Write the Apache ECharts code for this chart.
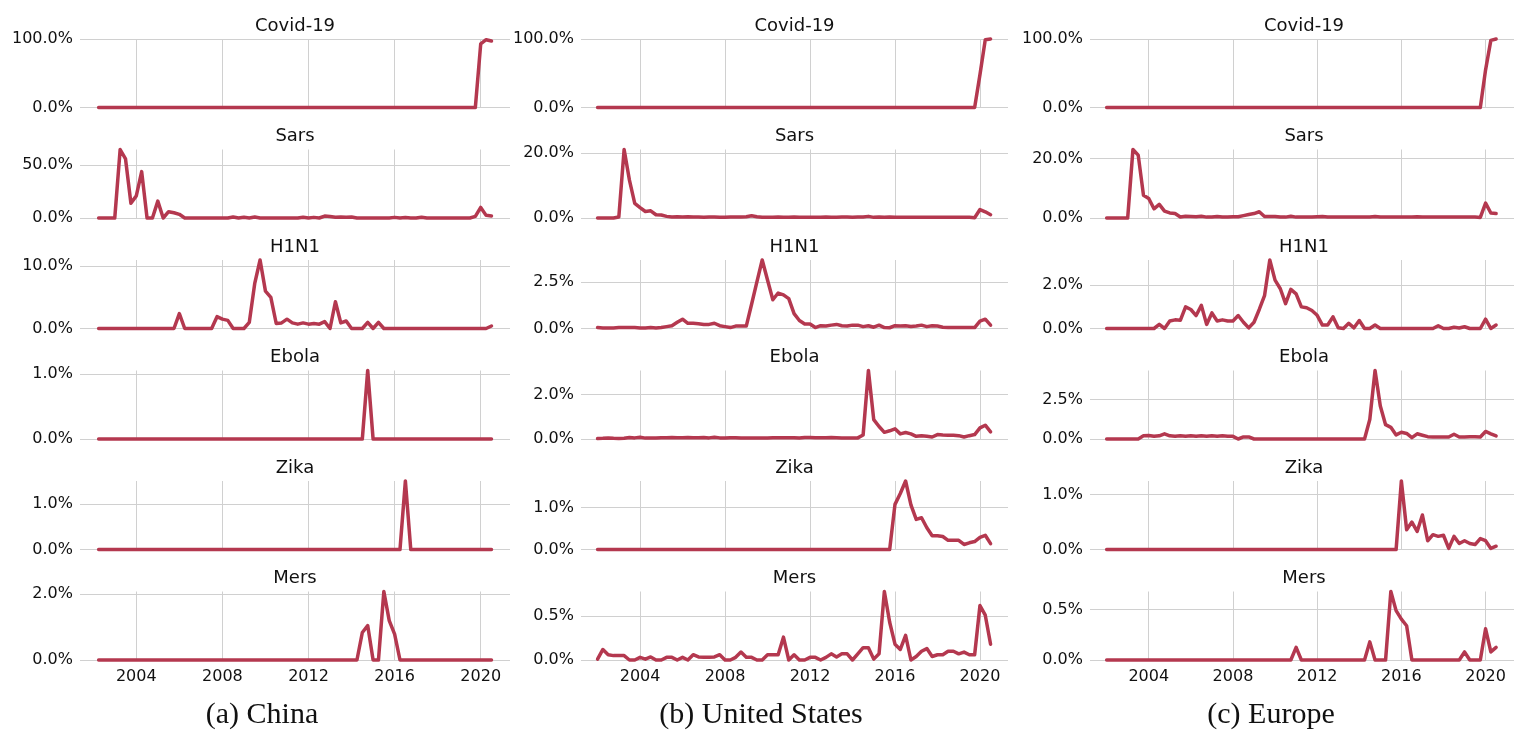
<!DOCTYPE html>
<html><head><meta charset="utf-8">
<script src="https://cdn.jsdelivr.net/npm/echarts@6/dist/echarts.min.js"></script>
<style>html,body{margin:0;padding:0;background:#fff}#c{width:1514px;height:730px}</style>
</head><body><div id="c"></div><script>
// ---------------- DATA ----------------
const regionNames = ['(a) China', '(b) United States', '(c) Europe'];
const diseases = ['Covid-19', 'Sars', 'H1N1', 'Ebola', 'Zika', 'Mers'];
const yearTicks = [2004, 2008, 2012, 2016, 2020];
// quarterly series start years
const chinaStartYear = 2002.25;
const usStartYear = 2002.0;
const europeStartYear = 2002.0;
const quarterStep = 0.25;
// upper y tick (percent) for each disease panel
const chinaYTicks = [100, 50, 10, 1, 1, 2];
const usYTicks = [100, 20, 2.5, 2, 1, 0.5];
const europeYTicks = [100, 20, 2, 2.5, 1, 0.5];

// China (2002 Q2 .. 2020 Q3), percent
const chinaCovid = [
 0,0,0,0,0,0,0,0,0,0, 0,0,0,0,0,0,0,0,0,0, 0,0,0,0,0,0,0,0,0,0,
 0,0,0,0,0,0,0,0,0,0, 0,0,0,0,0,0,0,0,0,0, 0,0,0,0,0,0,0,0,0,0,
 0,0,0,0,0,0,0,0,0,0, 0,93,99,97];
const chinaSars = [
 0,0,0,0,65,56,14,21,44,0, 0,16,0,6,5,3.5,0,0,0,0, 0,0,0,0,0,1,0,0.8,0,1,
 0,0,0,0,0,0,0,0,0.8,0, 0.6,0,1.8,1.5,0.8,1,0.8,1,0,0, 0,0,0,0,0,0.6,0,0.5,0,0,
 0.8,0,0,0,0,0,0,0,0,0, 1.5,10,2.5,2];
const chinaH1N1 = [
 0,0,0,0,0,0,0,0,0,0, 0,0,0,0,0,2.4,0,0,0,0, 0,0,1.9,1.5,1.3,0,0,0,1.0,7.2,
 11,6,5,0.8,0.9,1.5,0.9,0.7,0.9,0.7, 0.8,0.7,1.1,0,4.3,0.9,1.2,0,0,0, 1.0,0,1.0,0,0,0,0,0,0,0,
 0,0,0,0,0,0,0,0,0,0, 0,0,0,0.4];
const chinaEbola = [
 0,0,0,0,0,0,0,0,0,0, 0,0,0,0,0,0,0,0,0,0, 0,0,0,0,0,0,0,0,0,0,
 0,0,0,0,0,0,0,0,0,0, 0,0,0,0,0,0,0,0,0,0, 1.05,0,0,0,0,0,0,0,0,0,
 0,0,0,0,0,0,0,0,0,0, 0,0,0,0];
const chinaZika = [
 0,0,0,0,0,0,0,0,0,0, 0,0,0,0,0,0,0,0,0,0, 0,0,0,0,0,0,0,0,0,0,
 0,0,0,0,0,0,0,0,0,0, 0,0,0,0,0,0,0,0,0,0, 0,0,0,0,0,0,0,1.5,0,0,
 0,0,0,0,0,0,0,0,0,0, 0,0,0,0];
const chinaMers = [
 0,0,0,0,0,0,0,0,0,0, 0,0,0,0,0,0,0,0,0,0, 0,0,0,0,0,0,0,0,0,0,
 0,0,0,0,0,0,0,0,0,0, 0,0,0,0,0,0,0,0,0,0.83, 1.04,0,0,2.07,1.19,0.78,0,0,0,0,
 0,0,0,0,0,0,0,0,0,0, 0,0,0,0];

// United States (2002 Q1 .. 2020 Q3), percent
const usCovid = [
 0,0,0,0,0,0,0,0,0,0, 0,0,0,0,0,0,0,0,0,0, 0,0,0,0,0,0,0,0,0,0,
 0,0,0,0,0,0,0,0,0,0, 0,0,0,0,0,0,0,0,0,0, 0,0,0,0,0,0,0,0,0,0,
 0,0,0,0,0,0,0,0,0,0, 0,0,48,99,100];
const usSars = [
 0,0,0,0,0.3,21,11.6,4.5,3.2,2, 2.2,1.0,0.9,0.5,0.3,0.4,0.3,0.4,0.3,0.3,
 0.2,0.3,0.3,0.2,0.2,0.3,0.3,0.3,0.4,0.7, 0.4,0.2,0.2,0.2,0.3,0.2,0.2,0.3,0.2,0.2,
 0.2,0.2,0.2,0.3,0.2,0.2,0.3,0.3,0.2,0.3, 0.3,0.5,0.2,0.3,0.2,0.3,0.2,0.2,0.2,0.2,
 0.2,0.2,0.2,0.2,0.2,0.2,0.2,0.2,0.2,0.2, 0.2,0.1,2.6,1.9,1.0];
const usH1N1 = [
 0.05,0.03,0.03,0.03,0.05,0.05,0.06,0.05,0.03,0.03, 0.05,0.03,0.05,0.1,0.15,0.33,0.5,0.28,0.28,0.26,
 0.22,0.22,0.28,0.15,0.1,0.05,0.13,0.13,0.13,1.3, 2.5,3.67,2.6,1.54,1.9,1.8,1.6,0.8,0.43,0.24,
 0.24,0.05,0.15,0.13,0.18,0.22,0.15,0.13,0.18,0.18, 0.1,0.15,0.07,0.18,0.05,0.04,0.15,0.13,0.15,0.11,
 0.13,0.18,0.1,0.15,0.13,0.07,0.06,0.05,0.05,0.05, 0.05,0.05,0.4,0.5,0.18];
const usEbola = [
 0.02,0.03,0.05,0.03,0.02,0.03,0.07,0.05,0.08,0.04, 0.04,0.05,0.06,0.06,0.07,0.06,0.06,0.07,0.06,0.06,
 0.07,0.05,0.08,0.05,0.04,0.06,0.06,0.05,0.05,0.05, 0.05,0.04,0.05,0.06,0.06,0.06,0.06,0.06,0.04,0.07,
 0.07,0.06,0.06,0.06,0.07,0.06,0.05,0.04,0.04,0.05, 0.18,3.08,0.87,0.56,0.3,0.37,0.46,0.23,0.29,0.23,
 0.12,0.15,0.12,0.09,0.2,0.18,0.17,0.17,0.15,0.09, 0.15,0.2,0.5,0.62,0.32];
const usZika = [
 0,0,0,0,0,0,0,0,0,0, 0,0,0,0,0,0,0,0,0,0, 0,0,0,0,0,0,0,0,0,0,
 0,0,0,0,0,0,0,0,0,0, 0,0,0,0,0,0,0,0,0,0, 0,0,0,0,0,0,1.08,1.34,1.64,1.07,
 0.72,0.76,0.52,0.33,0.33,0.31,0.22,0.22,0.22,0.12, 0.16,0.19,0.29,0.34,0.14];
const usMers = [
 0.01,0.12,0.06,0.05,0.05,0.05,0,0,0.03,0.01, 0.035,0,0,0.03,0.03,0,0.03,0,0.06,0.035,
 0.03,0.03,0.035,0.06,0,0,0.03,0.09,0.03,0.03, 0,0,0.06,0.06,0.06,0.26,0,0.06,0,0,
 0.03,0.03,0,0.03,0.07,0.035,0.07,0.07,0,0.07, 0.14,0.14,0.01,0.07,0.78,0.43,0.18,0.12,0.28,0,
 0.04,0.1,0.13,0.04,0.06,0.06,0.1,0.1,0.07,0.09, 0.06,0.06,0.62,0.51,0.18];

// Europe (2002 Q1 .. 2020 Q3), percent
const europeCovid = [
 0,0,0,0,0,0,0,0,0,0, 0,0,0,0,0,0,0,0,0,0, 0,0,0,0,0,0,0,0,0,0,
 0,0,0,0,0,0,0,0,0,0, 0,0,0,0,0,0,0,0,0,0, 0,0,0,0,0,0,0,0,0,0,
 0,0,0,0,0,0,0,0,0,0, 0,0,55,98,100];
const europeSars = [
 0,0,0,0,0,23.1,21.2,7.7,6.6,3.1, 4.6,2.3,1.7,1.5,0.35,0.6,0.5,0.4,0.6,0.3,
 0.3,0.5,0.3,0.3,0.4,0.4,0.8,1.2,1.5,2.1, 0.5,0.5,0.5,0.3,0.3,0.6,0.3,0.3,0.3,0.3,
 0.4,0.5,0.3,0.3,0.3,0.3,0.3,0.3,0.3,0.3, 0.3,0.5,0.3,0.3,0.3,0.3,0.3,0.3,0.3,0.4,
 0.3,0.3,0.3,0.3,0.3,0.3,0.3,0.3,0.3,0.3, 0.3,0.2,5.0,1.7,1.5];
const europeH1N1 = [
 0,0,0,0,0,0,0,0,0,0, 0.19,0,0.35,0.4,0.38,1.0,0.88,0.6,1.07,0.19,
 0.72,0.35,0.4,0.35,0.35,0.6,0.29,0.03,0.29,0.88, 1.52,3.17,2.24,1.84,1.15,1.81,1.6,1.0,0.96,0.83,
 0.61,0.16,0.16,0.54,0.03,0,0.24,0.03,0.37,0, 0,0.16,0,0,0,0,0,0,0,0,
 0,0,0,0.13,0,0,0.06,0.02,0.08,0, 0,0,0.43,0,0.16];
const europeEbola = [
 0,0,0,0,0,0,0,0.2,0.22,0.17, 0.2,0.33,0.2,0.17,0.2,0.17,0.2,0.17,0.2,0.17,
 0.2,0.17,0.2,0.17,0.17,0,0.13,0.13,0,0, 0,0,0,0,0,0,0,0,0,0,
 0,0,0,0,0,0,0,0,0,0, 1.24,4.35,2.1,0.91,0.74,0.26,0.43,0.35,0.09,0.33,
 0.24,0.15,0.13,0.13,0.13,0.13,0.3,0.13,0.13,0.15, 0.15,0.13,0.48,0.33,0.2];
const europeZika = [
 0,0,0,0,0,0,0,0,0,0, 0,0,0,0,0,0,0,0,0,0, 0,0,0,0,0,0,0,0,0,0,
 0,0,0,0,0,0,0,0,0,0, 0,0,0,0,0,0,0,0,0,0, 0,0,0,0,0,0,1.25,0.36,0.5,0.33,
 0.63,0.16,0.27,0.24,0.26,0.02,0.24,0.11,0.16,0.11, 0.09,0.2,0.16,0.02,0.06];
const europeMers = [
 0,0,0,0,0,0,0,0,0,0, 0,0,0,0,0,0,0,0,0,0, 0,0,0,0,0,0,0,0,0,0,
 0,0,0,0,0,0,0.125,0,0,0, 0,0,0,0,0,0,0,0,0,0, 0.18,0,0,0,0.68,0.49,0.405,0.34,0,0,
 0,0,0,0,0,0,0,0,0.08,0, 0,0,0.31,0.08,0.125];

// ---------------- LAYOUT ----------------
const regions = [
  {start: chinaStartYear, ticks: chinaYTicks, series: [chinaCovid, chinaSars, chinaH1N1, chinaEbola, chinaZika, chinaMers]},
  {start: usStartYear, ticks: usYTicks, series: [usCovid, usSars, usH1N1, usEbola, usZika, usMers]},
  {start: europeStartYear, ticks: europeYTicks, series: [europeCovid, europeSars, europeH1N1, europeEbola, europeZika, europeMers]}
];
const colLayout = [
  {left: 80, width: 430, xmin: 2001.385, xmax: 2021.36, cap: 262},
  {left: 581, width: 427, xmin: 2001.22, xmax: 2021.32, cap: 761},
  {left: 1090, width: 428, xmin: 2001.21, xmax: 2021.35, cap: 1271}
];
const rowTop0 = 39, rowStep = 110.5, rowH = 68.5;
const LINE = '#b4384f', GRID = '#d0d0d0', TXT = '#111111';
const SANS = 'DejaVu Sans', SERIF = 'Liberation Serif';

const grid = [], xAxis = [], yAxis = [], series = [], title = [];
let idx = 0;
regions.forEach((reg, c) => {
  const col = colLayout[c];
  reg.series.forEach((vals, r) => {
    const top = rowTop0 + rowStep * r;
    grid.push({left: col.left, width: col.width, top: top, height: rowH, containLabel: false});
    xAxis.push({
      type: 'value', gridIndex: idx, min: col.xmin, max: col.xmax,
      axisLine: {show: false},
      axisTick: {show: false, customValues: yearTicks},
      axisLabel: {show: r === 5, customValues: yearTicks, formatter: v => String(v),
        fontFamily: SANS, fontSize: 16, color: TXT, margin: 9},
      splitLine: {show: true, lineStyle: {color: GRID, width: 1}}
    });
    const dataMax = Math.max.apply(null, vals);
    const tk = reg.ticks[r];
    yAxis.push({
      type: 'value', gridIndex: idx, min: 0, max: Math.max(dataMax, tk),
      axisLine: {show: false},
      axisTick: {show: false, customValues: [0, tk]},
      axisLabel: {customValues: [0, tk], formatter: v => v.toFixed(1) + '%',
        fontFamily: SANS, fontSize: 16, color: TXT, margin: 7},
      splitLine: {show: true, lineStyle: {color: GRID, width: 1}}
    });
    series.push({
      type: 'line', xAxisIndex: idx, yAxisIndex: idx,
      data: vals.map((v, i) => [reg.start + quarterStep * i, v]),
      showSymbol: false, clip: false, smooth: false,
      lineStyle: {color: LINE, width: 3.5, join: 'round', cap: 'round'},
      itemStyle: {color: LINE}
    });
    title.push({
      text: diseases[r], left: col.left + col.width / 2, top: top - 22,
      textAlign: 'center', padding: 0,
      textStyle: {fontFamily: SANS, fontSize: 18, fontWeight: 'normal', color: TXT}
    });
    idx++;
  });
  title.push({
    text: regionNames[c], left: col.cap, top: 700, textAlign: 'center', padding: 0,
    textStyle: {fontFamily: SERIF, fontSize: 30, fontWeight: 'normal', color: TXT}
  });
});

const chart = echarts.init(document.getElementById('c'), null, {renderer: 'canvas'});
chart.setOption({
  animation: false, backgroundColor: '#ffffff',
  title: title, grid: grid, xAxis: xAxis, yAxis: yAxis, series: series
});
</script></body></html>
